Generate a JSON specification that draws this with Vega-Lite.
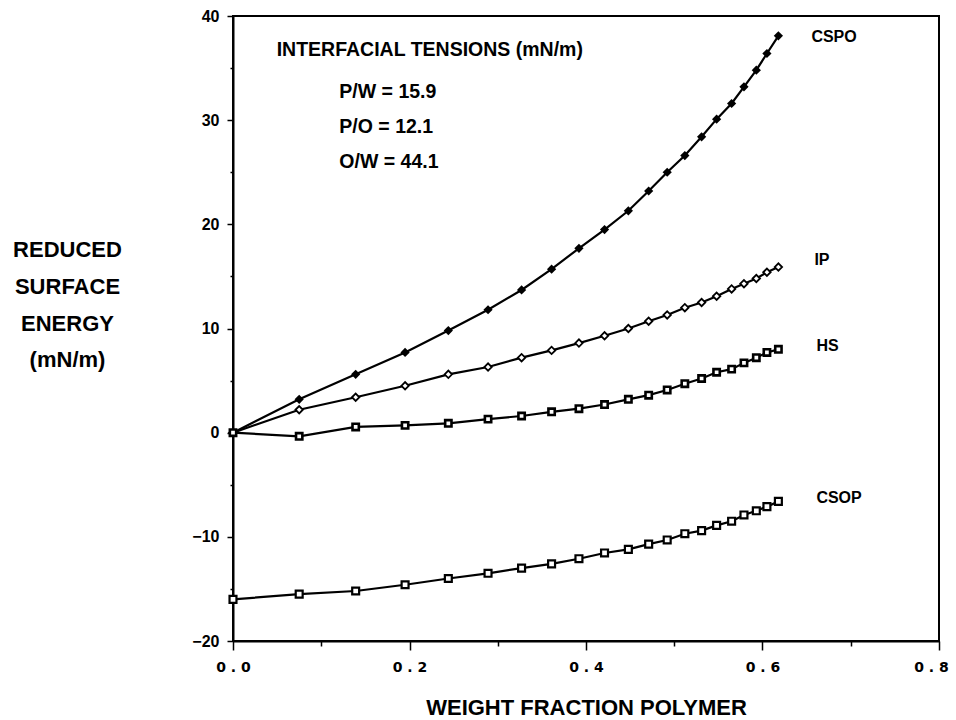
{
  "$schema": "https://vega.github.io/schema/vega-lite/v6.json",
  "width": 706,
  "height": 625,
  "autosize": {"type": "none"},
  "padding": {"left": 233, "top": 16, "right": 17, "bottom": 79},
  "background": "white",
  "config": {
    "view": {"stroke": "black", "strokeWidth": 2},
    "axis": {"domainColor": "black", "domainWidth": 2, "tickColor": "black", "tickWidth": 1.5, "labelColor": "black", "titleColor": "black", "grid": false}
  },
  "datasets": {
    "curves": [
      {"series": "CSPO", "x": 0, "y": 0}, {"series": "CSPO", "x": 0.075, "y": 3.2}, {"series": "CSPO", "x": 0.139, "y": 5.6}, {"series": "CSPO", "x": 0.195, "y": 7.7}, {"series": "CSPO", "x": 0.244, "y": 9.8}, {"series": "CSPO", "x": 0.289, "y": 11.8}, {"series": "CSPO", "x": 0.327, "y": 13.7}, {"series": "CSPO", "x": 0.361, "y": 15.7}, {"series": "CSPO", "x": 0.392, "y": 17.7}, {"series": "CSPO", "x": 0.421, "y": 19.5}, {"series": "CSPO", "x": 0.448, "y": 21.3}, {"series": "CSPO", "x": 0.471, "y": 23.2}, {"series": "CSPO", "x": 0.492, "y": 25.0}, {"series": "CSPO", "x": 0.512, "y": 26.6}, {"series": "CSPO", "x": 0.531, "y": 28.4}, {"series": "CSPO", "x": 0.548, "y": 30.1}, {"series": "CSPO", "x": 0.565, "y": 31.6}, {"series": "CSPO", "x": 0.579, "y": 33.2}, {"series": "CSPO", "x": 0.593, "y": 34.8}, {"series": "CSPO", "x": 0.605, "y": 36.4}, {"series": "CSPO", "x": 0.618, "y": 38.1},
      {"series": "IP", "x": 0, "y": 0}, {"series": "IP", "x": 0.075, "y": 2.2}, {"series": "IP", "x": 0.139, "y": 3.4}, {"series": "IP", "x": 0.195, "y": 4.5}, {"series": "IP", "x": 0.244, "y": 5.6}, {"series": "IP", "x": 0.289, "y": 6.3}, {"series": "IP", "x": 0.327, "y": 7.2}, {"series": "IP", "x": 0.361, "y": 7.9}, {"series": "IP", "x": 0.392, "y": 8.6}, {"series": "IP", "x": 0.421, "y": 9.3}, {"series": "IP", "x": 0.448, "y": 10.0}, {"series": "IP", "x": 0.471, "y": 10.7}, {"series": "IP", "x": 0.492, "y": 11.3}, {"series": "IP", "x": 0.512, "y": 12.0}, {"series": "IP", "x": 0.531, "y": 12.5}, {"series": "IP", "x": 0.548, "y": 13.1}, {"series": "IP", "x": 0.565, "y": 13.8}, {"series": "IP", "x": 0.579, "y": 14.3}, {"series": "IP", "x": 0.593, "y": 14.8}, {"series": "IP", "x": 0.605, "y": 15.4}, {"series": "IP", "x": 0.618, "y": 15.9},
      {"series": "HS", "x": 0, "y": 0}, {"series": "HS", "x": 0.075, "y": -0.35}, {"series": "HS", "x": 0.139, "y": 0.55}, {"series": "HS", "x": 0.195, "y": 0.7}, {"series": "HS", "x": 0.244, "y": 0.9}, {"series": "HS", "x": 0.289, "y": 1.3}, {"series": "HS", "x": 0.327, "y": 1.6}, {"series": "HS", "x": 0.361, "y": 2.0}, {"series": "HS", "x": 0.392, "y": 2.3}, {"series": "HS", "x": 0.421, "y": 2.7}, {"series": "HS", "x": 0.448, "y": 3.2}, {"series": "HS", "x": 0.471, "y": 3.6}, {"series": "HS", "x": 0.492, "y": 4.1}, {"series": "HS", "x": 0.512, "y": 4.7}, {"series": "HS", "x": 0.531, "y": 5.2}, {"series": "HS", "x": 0.548, "y": 5.8}, {"series": "HS", "x": 0.565, "y": 6.1}, {"series": "HS", "x": 0.579, "y": 6.7}, {"series": "HS", "x": 0.593, "y": 7.2}, {"series": "HS", "x": 0.605, "y": 7.7}, {"series": "HS", "x": 0.618, "y": 8.0},
      {"series": "CSOP", "x": 0, "y": -16.0}, {"series": "CSOP", "x": 0.075, "y": -15.5}, {"series": "CSOP", "x": 0.139, "y": -15.2}, {"series": "CSOP", "x": 0.195, "y": -14.6}, {"series": "CSOP", "x": 0.244, "y": -14.0}, {"series": "CSOP", "x": 0.289, "y": -13.5}, {"series": "CSOP", "x": 0.327, "y": -13.0}, {"series": "CSOP", "x": 0.361, "y": -12.6}, {"series": "CSOP", "x": 0.392, "y": -12.1}, {"series": "CSOP", "x": 0.421, "y": -11.55}, {"series": "CSOP", "x": 0.448, "y": -11.2}, {"series": "CSOP", "x": 0.471, "y": -10.7}, {"series": "CSOP", "x": 0.492, "y": -10.3}, {"series": "CSOP", "x": 0.512, "y": -9.7}, {"series": "CSOP", "x": 0.531, "y": -9.4}, {"series": "CSOP", "x": 0.548, "y": -8.9}, {"series": "CSOP", "x": 0.565, "y": -8.5}, {"series": "CSOP", "x": 0.579, "y": -7.9}, {"series": "CSOP", "x": 0.593, "y": -7.5}, {"series": "CSOP", "x": 0.605, "y": -7.1}, {"series": "CSOP", "x": 0.618, "y": -6.6}
    ],
    "notes": [
      {"text": "INTERFACIAL TENSIONS (mN/m)", "x": 0.0495, "y": 36.7},
      {"text": "P/W = 15.9", "x": 0.1205, "y": 32.75},
      {"text": "P/O = 12.1", "x": 0.1205, "y": 29.3},
      {"text": "O/W = 44.1", "x": 0.1205, "y": 26.0}
    ]
  },
  "encoding": {
    "x": {
      "field": "x", "type": "quantitative",
      "scale": {"domain": [0, 0.8], "nice": false, "zero": false},
      "axis": {
        "values": [0, 0.1, 0.2, 0.3, 0.4, 0.5, 0.6, 0.7, 0.8],
        "labelExpr": "round(datum.value*10) % 2 === 0 ? replace(format(datum.value, '.1f'), '.', ' . ') : ''",
        "tickSize": {"condition": {"test": "round(datum.value*10) % 2 === 0", "value": 9}, "value": 5},
        "labelOffset": {"condition": {"test": "datum.value > 0.75", "value": -8}, "value": 0},
        "labelFont": "DejaVu Sans", "labelFontWeight": "bold", "labelFontSize": 14,
        "labelPadding": 10, "labelFlush": false, "labelBound": false, "labelOverlap": false,
        "title": "WEIGHT FRACTION POLYMER",
        "titleFont": "Liberation Sans", "titleFontWeight": "bold", "titleFontSize": 22,
        "titleX": 353, "titleY": 78, "titleAlign": "center", "titleBaseline": "bottom"
      }
    },
    "y": {
      "field": "y", "type": "quantitative",
      "scale": {"domain": [-20, 40], "nice": false, "zero": false},
      "axis": {
        "values": [-20, -15, -10, -5, 0, 5, 10, 15, 20, 25, 30, 35, 40],
        "labelExpr": "datum.value % 10 === 0 ? datum.label : ''",
        "tickSize": {"condition": {"test": "datum.value % 10 === 0", "value": 6}, "value": 3},
        "labelFont": "Liberation Sans", "labelFontWeight": "bold", "labelFontSize": 16,
        "labelPadding": 8, "labelFlush": false,
        "title": ["REDUCED", "SURFACE", "ENERGY", "(mN/m)"],
        "titleFont": "Liberation Sans", "titleFontWeight": "bold", "titleFontSize": 22,
        "titleAngle": 0, "titleAlign": "center", "titleBaseline": "alphabetic",
        "titleX": -166, "titleY": 240.7, "titleLineHeight": 36.7
      }
    }
  },
  "layer": [
    {
      "data": {"name": "curves"},
      "mark": {"type": "line", "color": "black", "strokeWidth": 2.2},
      "encoding": {"detail": {"field": "series"}}
    },
    {
      "data": {"name": "curves"},
      "transform": [{"filter": "datum.series === 'CSPO'"}],
      "mark": {"type": "point", "shape": "diamond", "filled": true, "color": "black", "size": 85, "opacity": 1}
    },
    {
      "data": {"name": "curves"},
      "transform": [{"filter": "datum.series === 'IP'"}],
      "mark": {"type": "point", "shape": "diamond", "fill": "white", "stroke": "black", "strokeWidth": 1.8, "size": 55, "opacity": 1}
    },
    {
      "data": {"name": "curves"},
      "transform": [{"filter": "datum.series === 'HS'"}],
      "mark": {"type": "point", "shape": "square", "fill": "white", "stroke": "black", "strokeWidth": 2.6, "size": 40, "opacity": 1}
    },
    {
      "data": {"name": "curves"},
      "transform": [{"filter": "datum.series === 'CSOP'"}],
      "mark": {"type": "point", "shape": "square", "fill": "white", "stroke": "black", "strokeWidth": 2.2, "size": 48, "opacity": 1}
    },
    {
      "data": {"name": "curves"},
      "transform": [{"filter": "datum.x === 0.618 && datum.series === 'CSPO'"}],
      "mark": {"type": "text", "align": "left", "baseline": "middle", "dx": 33, "dy": 1, "font": "Liberation Sans", "fontWeight": "bold", "fontSize": 16, "color": "black"},
      "encoding": {"text": {"field": "series"}}
    },
    {
      "data": {"name": "curves"},
      "transform": [{"filter": "datum.x === 0.618 && datum.series === 'IP'"}],
      "mark": {"type": "text", "align": "left", "baseline": "middle", "dx": 36, "dy": -7, "font": "Liberation Sans", "fontWeight": "bold", "fontSize": 16, "color": "black"},
      "encoding": {"text": {"field": "series"}}
    },
    {
      "data": {"name": "curves"},
      "transform": [{"filter": "datum.x === 0.618 && (datum.series === 'HS' || datum.series === 'CSOP')"}],
      "mark": {"type": "text", "align": "left", "baseline": "middle", "dx": 38, "dy": -3, "font": "Liberation Sans", "fontWeight": "bold", "fontSize": 16, "color": "black"},
      "encoding": {"text": {"field": "series"}}
    },
    {
      "data": {"name": "notes"},
      "mark": {"type": "text", "align": "left", "baseline": "middle", "font": "Liberation Sans", "fontWeight": "bold", "fontSize": 19.5, "color": "black"},
      "encoding": {"text": {"field": "text"}}
    }
  ]
}
